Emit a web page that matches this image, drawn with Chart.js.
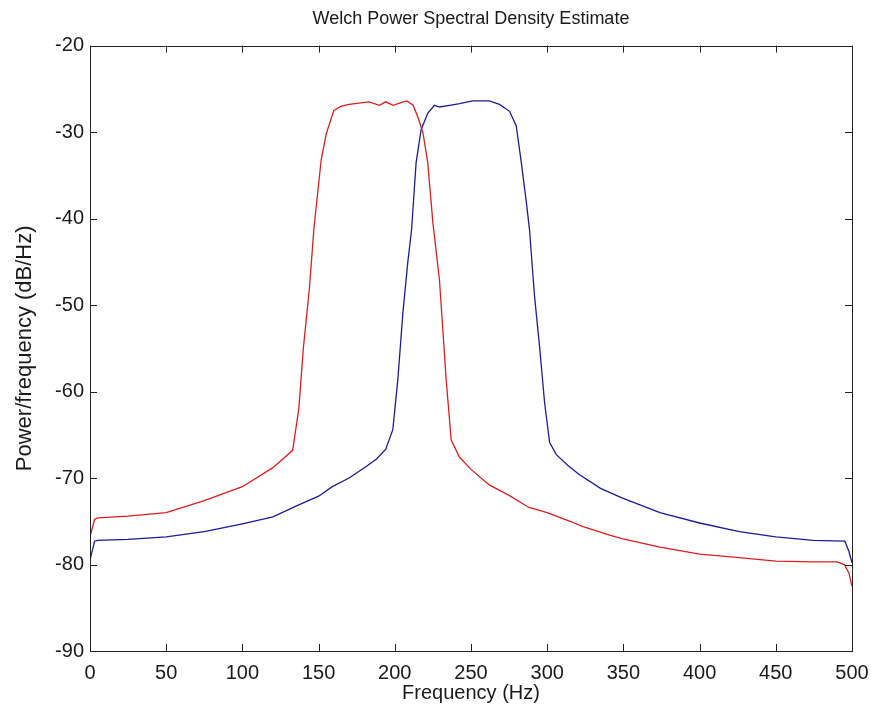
<!DOCTYPE html>
<html>
<head>
<meta charset="utf-8">
<script src="https://cdn.jsdelivr.net/npm/chart.js@4/dist/chart.umd.min.js"></script>
<style>
  html, body { margin: 0; padding: 0; background: #fff; }
  #wrap { width: 875px; height: 718px; position: relative; }
</style>
</head>
<body>
<div id="wrap"><canvas id="c"></canvas></div>
<script>
const chartTitle = 'Welch Power Spectral Density Estimate';
const xLabel = 'Frequency (Hz)';
const yLabel = 'Power/frequency (dB/Hz)';

const xTicks = [0, 50, 100, 150, 200, 250, 300, 350, 400, 450, 500];
const yTicks = [-90, -80, -70, -60, -50, -40, -30, -20];

const redFreq = [0, 3, 5, 25, 50, 75, 100, 120, 133, 137, 140, 144, 147, 151.7, 155, 160, 165, 170, 183, 190, 194, 199, 204, 208, 212, 215, 218.4, 221.6, 225, 229.3, 231.5, 233.7, 237, 242.5, 250, 262, 275, 288, 300, 315, 323, 341, 349, 374, 400, 426, 450, 475, 490, 495, 498, 500];
const redPsd  = [-76.8, -74.8, -74.6, -74.4, -74.0, -72.6, -71.0, -68.8, -66.8, -62.0, -55.0, -48.0, -41.0, -33.2, -30.2, -27.5, -27.0, -26.8, -26.5, -26.9, -26.5, -26.9, -26.6, -26.4, -26.9, -28.2, -30.0, -33.5, -40.5, -47.1, -52.8, -58.6, -65.6, -67.6, -69.0, -70.8, -72.0, -73.4, -74.0, -75.0, -75.6, -76.6, -77.0, -78.0, -78.8, -79.2, -79.6, -79.7, -79.7, -80.0, -81.0, -82.5];

const blueFreq = [0, 3, 5, 25, 50, 75, 100, 120, 137, 150, 159, 170, 181, 188, 194, 198.7, 202, 205.3, 208.5, 211, 214, 217.3, 221.7, 226, 229.3, 236, 242.5, 251, 262, 268.7, 275.3, 279.7, 283, 286.3, 288.4, 291.7, 295, 298.3, 301.6, 306, 314, 321, 335, 349, 374, 400, 426, 450, 474.5, 495.3, 498, 500];
const bluePsd  = [-79.5, -77.3, -77.2, -77.1, -76.8, -76.2, -75.3, -74.5, -73.1, -72.1, -71.0, -70.0, -68.7, -67.8, -66.7, -64.4, -58.6, -50.9, -45.1, -41.3, -33.5, -29.7, -27.8, -26.9, -27.1, -26.9, -26.7, -26.4, -26.4, -26.8, -27.6, -29.3, -33.5, -38.1, -41.3, -49.0, -54.8, -61.3, -65.9, -67.3, -68.6, -69.6, -71.2, -72.3, -74.0, -75.2, -76.2, -76.8, -77.2, -77.3, -78.5, -79.8];

const toPoints = (xs, ys) => xs.map((x, i) => ({ x: x, y: ys[i] }));

const FONT = '"Liberation Sans", Arial, sans-serif';
const TXT = '#1a1a1a';

const framePlugin = {
  id: 'frame',
  afterDatasetsDraw(chart) {
    const { ctx, chartArea: a, scales } = chart;
    const L = 7;
    ctx.save();
    ctx.strokeStyle = '#222';
    ctx.lineWidth = 1;
    ctx.beginPath();
    scales.x.ticks.forEach(t => {
      const px = Math.round(scales.x.getPixelForValue(t.value)) + 0.5;
      ctx.moveTo(px, a.bottom); ctx.lineTo(px, a.bottom - L);
      ctx.moveTo(px, a.top); ctx.lineTo(px, a.top + L);
    });
    scales.y.ticks.forEach(t => {
      const py = Math.round(scales.y.getPixelForValue(t.value)) + 0.5;
      ctx.moveTo(a.left, py); ctx.lineTo(a.left + L, py);
      ctx.moveTo(a.right, py); ctx.lineTo(a.right - L, py);
    });
    ctx.stroke();
    ctx.strokeRect(Math.round(a.left) + 0.5, Math.round(a.top) + 0.5,
                   Math.round(a.right - a.left), Math.round(a.bottom - a.top));
    ctx.restore();
  }
};

new Chart(document.getElementById('c'), {
  type: 'line',
  data: {
    datasets: [
      { label: 'red', data: toPoints(redFreq, redPsd), borderColor: '#dc1e1e', borderWidth: 1.3, pointRadius: 0, tension: 0, fill: false },
      { label: 'blue', data: toPoints(blueFreq, bluePsd), borderColor: '#1c1c96', borderWidth: 1.3, pointRadius: 0, tension: 0, fill: false }
    ]
  },
  options: {
    responsive: true,
    maintainAspectRatio: false,
    animation: false,
    layout: { padding: { left: 0, right: 23, top: 0, bottom: 0 } },
    plugins: {
      legend: { display: false },
      tooltip: { enabled: false },
      title: {
        display: true,
        fullSize: false,
        text: chartTitle,
        color: TXT,
        font: { family: FONT, size: 18, weight: 'normal', lineHeight: 1.2 },
        padding: { top: 8, bottom: 16 }
      }
    },
    scales: {
      x: {
        type: 'linear',
        min: 0, max: 500,
        afterBuildTicks: s => { s.ticks = xTicks.map(v => ({ value: v })); },
        afterFit: s => { s.height = 67; s.paddingLeft = 0; s.paddingRight = 0; },
        grid: { display: false, drawTicks: false },
        border: { display: false },
        ticks: { color: TXT, font: { family: FONT, size: 20 }, padding: 10, maxRotation: 0, autoSkip: false },
        title: { display: true, text: xLabel, color: TXT, font: { family: FONT, size: 20 }, padding: { top: 0, bottom: 13 } }
      },
      y: {
        type: 'linear',
        min: -90, max: -20,
        afterBuildTicks: s => { s.ticks = yTicks.map(v => ({ value: v })); },
        afterFit: s => { s.width = 90; },
        grid: { display: false, drawTicks: false },
        border: { display: false },
        ticks: { color: TXT, font: { family: FONT, size: 20 }, padding: 6, autoSkip: false },
        title: { display: true, text: yLabel, color: TXT, font: { family: FONT, size: 22 }, padding: { top: 12, bottom: 0 } }
      }
    }
  },
  plugins: [framePlugin]
});
</script>
</body>
</html>
